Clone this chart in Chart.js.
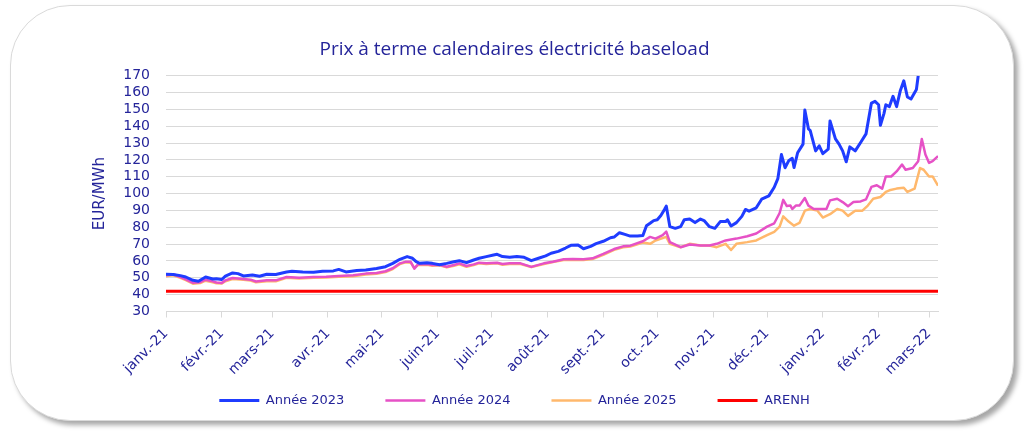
<!DOCTYPE html>
<html lang="fr">
<head>
<meta charset="utf-8">
<title>Prix à terme calendaires électricité baseload</title>
<script src="https://cdn.jsdelivr.net/npm/chart.js@4.4.1/dist/chart.umd.min.js"></script>
<style>
  html, body { margin: 0; padding: 0; background: #ffffff; }
  #wrap { position: relative; width: 1024px; height: 432px; overflow: hidden; }
  #card {
    position: absolute; left: 10px; top: 5px; width: 1002px; height: 414px;
    border: 1px solid #dadada; border-radius: 60px; background: #ffffff;
    box-shadow: 4px 4px 5px rgba(0, 0, 0, 0.35);
  }
  #priceChart { position: absolute; left: 0; top: 0; }
</style>
</head>
<body>
<div id="wrap">
  <div id="card"></div>
  <canvas id="priceChart" width="1024" height="432"></canvas>
</div>
<script>
// x values are days counted from 1 Jan 2021
const monthStarts = [0, 31, 59, 90, 120, 151, 181, 212, 243, 273, 304, 334, 365, 396, 424];
const monthLabels = ['janv.-21', 'févr.-21', 'mars-21', 'avr.-21', 'mai-21', 'juin-21', 'juil.-21',
  'août-21', 'sept.-21', 'oct.-21', 'nov.-21', 'déc.-21', 'janv.-22', 'févr.-22', 'mars-22'];
const yTicks = [30, 40, 50, 60, 70, 80, 90, 100, 110, 120, 130, 140, 150, 160, 170];

const days2023 = [0, 4, 8, 11, 15, 18, 22, 26, 28, 31, 33, 37, 40, 43, 48, 52, 56, 61, 67, 70, 76, 82, 87, 93,
  96, 100, 106, 111, 117, 122, 126, 130, 134, 137, 139, 141, 145, 148, 152, 156, 160, 163, 167, 171, 174,
  178, 182, 184, 187, 191, 195, 199, 203, 207, 211, 214, 218, 222, 225, 229, 232, 236, 239, 243, 247, 249,
  252, 255, 258, 262, 265, 267, 269, 271, 273, 275, 277, 278, 280, 283, 286, 288, 291, 294, 297, 299, 302,
  305, 308, 311, 312, 314, 317, 320, 322, 324, 328, 331, 335, 338, 340, 342, 344, 346, 348, 349, 351, 354,
  355, 357, 358, 361, 363, 365, 368, 369, 372, 374, 376, 378, 380, 383, 386, 389, 392, 394, 396, 397, 399,
  400, 402, 404, 406, 408, 410, 412, 414, 417, 418];
const prix2023 = [52.1, 52, 51.3, 50.5, 48.5, 48, 50.5, 49.3, 49.5, 49, 51, 52.9, 52.5, 51.1, 51.7, 50.9, 52.1,
  52, 53.5, 53.9, 53.5, 53.3, 53.9, 54.1, 55, 53.5, 54.3, 54.7, 55.5, 56.6, 58.6, 61, 62.6, 61.6, 59.6, 58.6,
  59, 58.6, 57.8, 58.6, 59.6, 60.2, 59, 60.6, 61.6, 62.6, 63.6, 64, 62.6, 62.2, 62.6, 62.2, 60.2, 61.6, 63,
  64.6, 65.7, 67.7, 69.3, 69.5, 67.3, 68.7, 70.3, 71.7, 73.8, 74.2, 76.8, 75.8, 74.8, 74.8, 75.2, 80.9, 82.4,
  84, 84.5, 87, 90.6, 92.6, 80.4, 79.4, 80.4, 84.5, 84.9, 82.8, 84.9, 84, 80.4, 79.4, 83.4, 83.4, 84.5, 80.8,
  82.8, 86.5, 90.6, 89.6, 91.6, 96.7, 98.7, 103.8, 108.9, 123.2, 115.4, 119.5, 121, 115.5, 124.3, 129.4,
  149.7, 138.5, 137.5, 125.4, 128.4, 123.8, 126.4, 143.2, 132.5, 129.4, 125.4, 118.9, 127.8, 125.4, 130.4,
  135.5, 153.8, 154.8, 152.8, 140.6, 147.7, 152.8, 151.7, 157.8, 151.7, 160.9, 167, 157.4, 156.2, 161.9, 170];

const days2024 = [0, 4, 8, 11, 15, 19, 22, 26, 28, 31, 33, 37, 43, 47, 50, 56, 61, 67, 74, 82, 89, 96, 104, 111,
  117, 122, 126, 130, 133, 136, 138, 140, 145, 148, 152, 156, 160, 163, 167, 171, 174, 178, 184, 187, 191,
  197, 203, 210, 215, 221, 226, 232, 237, 243, 249, 254, 258, 265, 269, 272, 276, 278, 280, 286, 291, 297,
  302, 306, 311, 317, 323, 328, 334, 338, 341, 343, 345, 347, 348, 350, 352, 355, 357, 360, 363, 367, 369,
  373, 376, 379, 382, 386, 389, 392, 395, 398, 400, 403, 406, 409, 411, 415, 418, 420, 422, 424, 426, 429];
const prix2024 = [51.5, 52.1, 50.5, 49.1, 47, 47.4, 48.9, 47.9, 47.2, 47, 48.5, 49.9, 49.3, 48.9, 47.8, 48.5,
  48.5, 50.5, 50.1, 50.5, 50.7, 51.1, 51.5, 52.5, 52.9, 53.9, 55.7, 58.6, 59.5, 59.5, 55.5, 58, 58.2, 57.6,
  57.8, 56.6, 57.6, 58.6, 57, 58, 59, 58.6, 59, 58.2, 58.6, 58.6, 56.5, 58.6, 59.6, 61, 61.2, 61, 61.6, 64.2,
  67.1, 68.7, 69.1, 71.7, 74.3, 73.3, 75.3, 77.5, 71.2, 68.2, 69.8, 69.2, 69.2, 70.2, 72.2, 73.3, 74.7, 76.3,
  80.4, 82.4, 88.5, 96.3, 92.6, 92.9, 90.9, 92.9, 92.9, 97.4, 92.9, 90.9, 90.9, 90.9, 96, 97, 95, 92.5, 95,
  95.4, 96.6, 104, 105, 103, 110.2, 110.2, 113.2, 117.3, 114.2, 115.2, 119.3, 132.5, 123.3, 118.3, 119.3, 122.3];

const days2025 = [0, 4, 8, 11, 15, 19, 22, 26, 28, 31, 33, 37, 43, 47, 50, 56, 61, 67, 74, 82, 89, 96, 104, 111,
  117, 122, 126, 130, 133, 136, 138, 140, 145, 148, 152, 156, 160, 163, 167, 171, 174, 178, 184, 187, 191,
  197, 203, 210, 215, 221, 226, 232, 237, 243, 249, 254, 258, 265, 269, 272, 278, 280, 286, 291, 297, 302,
  306, 311, 314, 317, 323, 328, 334, 338, 341, 343, 346, 349, 352, 355, 358, 362, 365, 369, 373, 376, 379,
  383, 387, 390, 393, 397, 400, 402, 406, 410, 412, 416, 419, 421, 424, 426, 429];
const prix2025 = [51, 51.5, 50, 48.6, 46.5, 46.9, 48.3, 47.4, 46.8, 46.6, 48, 49.3, 48.8, 48.4, 47.4, 48, 48, 50,
  49.6, 50, 50.2, 50.6, 51, 52, 52.4, 53.4, 55.2, 58.2, 59.2, 59, 55.8, 57.6, 57.8, 57.2, 57.4, 56.2, 57.2, 58,
  56.6, 57.6, 58.6, 58.2, 58.6, 57.8, 58.2, 58.2, 56.4, 58.2, 59.4, 60.6, 60.8, 60.6, 61.2, 63.6, 66.6, 68.2,
  68.6, 71, 70.2, 72.2, 74.3, 70.2, 68.2, 70.2, 69.2, 69.2, 68.2, 70.2, 66.5, 70.2, 71.2, 72.2, 75.3, 77.3,
  80.4, 86.5, 83.4, 81, 82.6, 89.9, 90.9, 89.9, 85.8, 87.8, 90.9, 89.9, 86.8, 89.9, 89.9, 92.9, 97, 98, 101,
  102, 103, 103.5, 101, 103, 115.2, 114.2, 110.2, 110.2, 104.7];

const daysArenh = [0, 429];
const prixArenh = [42, 42];

const textColor = '#25259a';
const gridColor = '#d9d9d9';

function toPoints(days, values) {
  return days.map((d, i) => ({ x: d, y: values[i] }));
}

function makeSeries(label, days, values, color, width) {
  return {
    label: label,
    data: toPoints(days, values),
    borderColor: color,
    backgroundColor: color,
    borderWidth: width,
    pointRadius: 0,
    pointHoverRadius: 0,
    tension: 0,
    borderJoinStyle: 'round',
    fill: false
  };
}

const ctx = document.getElementById('priceChart').getContext('2d');
const priceChart = new Chart(ctx, {
  type: 'line',
  data: {
    datasets: [
      makeSeries('Année 2023', days2023, prix2023, '#1f3cff', 3),
      makeSeries('Année 2024', days2024, prix2024, '#e651c6', 2.5),
      makeSeries('Année 2025', days2025, prix2025, '#ffb86c', 2.5),
      makeSeries('ARENH', daysArenh, prixArenh, '#ff0000', 3)
    ]
  },
  options: {
    responsive: false,
    animation: false,
    events: [],
    layout: {
      padding: { left: 91, right: 86, top: 0, bottom: 15 }
    },
    plugins: {
      title: {
        display: true,
        text: 'Prix à terme calendaires électricité baseload',
        color: textColor,
        font: { family: 'Open Sans', size: 19, weight: 'normal' },
        padding: { top: 38, bottom: 15 }
      },
      legend: {
        position: 'bottom',
        labels: {
          color: textColor,
          font: { family: 'DejaVu Sans', size: 13 },
          usePointStyle: true,
          pointStyle: 'line',
          pointStyleWidth: 40,
          padding: 41
        }
      },
      tooltip: { enabled: false }
    },
    scales: {
      x: {
        type: 'linear',
        min: 0,
        max: 429,
        afterBuildTicks: function(scale) {
          scale.ticks = monthStarts.map(v => ({ value: v }));
        },
        afterFit: function(scale) {
          scale.height = 41.5;
          // rotated labels reach into the legend band, do not clip them to the axis box
          scale._computeLabelArea = function() { return undefined; };
        },
        ticks: {
          autoSkip: false,
          maxRotation: 45,
          minRotation: 45,
          padding: 8,
          color: textColor,
          font: { family: 'DejaVu Sans', size: 14 },
          callback: function(value) {
            const i = monthStarts.indexOf(value);
            return i >= 0 ? monthLabels[i] : '';
          }
        },
        grid: {
          display: true,
          drawOnChartArea: false,
          drawTicks: true,
          tickLength: 6,
          color: gridColor
        },
        border: { display: true, color: gridColor }
      },
      y: {
        min: 30,
        max: 170,
        afterBuildTicks: function(scale) {
          scale.ticks = yTicks.map(v => ({ value: v }));
        },
        afterFit: function(scale) {
          scale.width = 75;
        },
        title: {
          display: true,
          text: 'EUR/MWh',
          color: textColor,
          font: { family: 'DejaVu Sans', size: 15 },
          padding: { top: 0, bottom: 0 }
        },
        ticks: {
          color: textColor,
          font: { family: 'DejaVu Sans', size: 14 },
          padding: 16,
          autoSkip: false
        },
        grid: {
          color: gridColor,
          drawTicks: false
        },
        border: { display: false }
      }
    }
  }
});
</script>
</body>
</html>
